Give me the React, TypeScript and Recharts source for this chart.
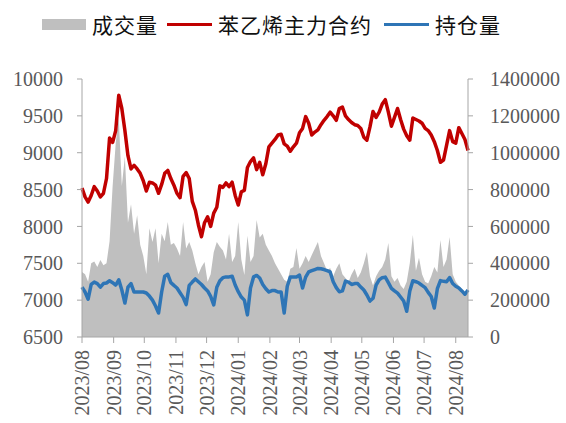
import React from 'react';
import { ComposedChart, Area, Line, XAxis, YAxis } from 'recharts';

const dates = [
  '2023-08-01','2023-08-04','2023-08-07','2023-08-10','2023-08-13','2023-08-16','2023-08-19','2023-08-22','2023-08-25','2023-08-28','2023-08-31',
  '2023-09-03','2023-09-06','2023-09-09','2023-09-12','2023-09-15','2023-09-18','2023-09-21','2023-09-24','2023-09-27','2023-09-30',
  '2023-10-03','2023-10-06','2023-10-09','2023-10-12','2023-10-15','2023-10-18','2023-10-21','2023-10-24','2023-10-27','2023-10-30',
  '2023-11-02','2023-11-05','2023-11-08','2023-11-11','2023-11-14','2023-11-17','2023-11-20','2023-11-23','2023-11-26','2023-11-29',
  '2023-12-02','2023-12-05','2023-12-08','2023-12-11','2023-12-14','2023-12-17','2023-12-20','2023-12-23','2023-12-26','2023-12-29',
  '2024-01-01','2024-01-04','2024-01-07','2024-01-10','2024-01-13','2024-01-16','2024-01-19','2024-01-22','2024-01-25','2024-01-28','2024-01-31',
  '2024-02-03','2024-02-06','2024-02-09','2024-02-12','2024-02-15','2024-02-18','2024-02-21','2024-02-24','2024-02-27',
  '2024-03-01','2024-03-04','2024-03-07','2024-03-10','2024-03-13','2024-03-16','2024-03-19','2024-03-22','2024-03-25','2024-03-28','2024-03-31',
  '2024-04-03','2024-04-06','2024-04-09','2024-04-12','2024-04-15','2024-04-18','2024-04-21','2024-04-24','2024-04-27','2024-04-30',
  '2024-05-03','2024-05-06','2024-05-09','2024-05-12','2024-05-15','2024-05-18','2024-05-21','2024-05-24','2024-05-27','2024-05-30',
  '2024-06-02','2024-06-05','2024-06-08','2024-06-11','2024-06-14','2024-06-17','2024-06-20','2024-06-23','2024-06-26','2024-06-29',
  '2024-07-02','2024-07-05','2024-07-08','2024-07-11','2024-07-14','2024-07-17','2024-07-20','2024-07-23','2024-07-26','2024-07-29',
  '2024-08-01','2024-08-04','2024-08-07','2024-08-10','2024-08-13',
];

// 苯乙烯主力合约 (left axis)
const price = [
  8520, 8400, 8330, 8420, 8540, 8480, 8400, 8450, 8650, 9200, 9140,
  9300, 9780, 9600, 9300, 8960, 8780, 8830, 8780, 8720, 8620,
  8480, 8600, 8590, 8560, 8450, 8570, 8720, 8760, 8650, 8560,
  8450, 8390, 8680, 8730, 8650, 8340, 8220, 8020, 7860, 8050,
  8130, 8000, 8180, 8260, 8550, 8530, 8590, 8540, 8600, 8420,
  8290, 8470, 8490, 8800, 8880, 8930, 8770, 8870, 8700, 8850, 9080,
  9130, 9180, 9240, 9250, 9120, 9090, 9020, 9080, 9130,
  9270, 9330, 9490, 9400, 9240, 9280, 9310, 9380, 9440, 9490, 9550,
  9500, 9440, 9600, 9620, 9500, 9450, 9410, 9380, 9370, 9330,
  9210, 9170, 9350, 9560, 9480, 9550, 9660, 9720, 9550, 9360,
  9480, 9600, 9450, 9320, 9230, 9170, 9470, 9450, 9430, 9400,
  9330, 9300, 9240, 9150, 9030, 8870, 8900, 9100, 9300, 9150,
  9130, 9340, 9260, 9180, 9030,
];

// 持仓量 (right axis)
const openInterest = [
  271000, 244000, 205000, 285000, 298000, 290000, 271000, 290000, 293000, 305000, 295000,
  282000, 310000, 255000, 184000, 270000, 290000, 244000, 244000, 244000, 244000,
  239000, 222000, 200000, 168000, 130000, 244000, 330000, 340000, 295000, 280000,
  266000, 240000, 215000, 176000, 280000, 298000, 315000, 300000, 285000, 266000,
  250000, 220000, 174000, 270000, 305000, 322000, 326000, 326000, 330000, 282000,
  246000, 217000, 200000, 120000, 266000, 326000, 334000, 320000, 285000, 262000, 244000,
  252000, 252000, 244000, 244000, 130000, 275000, 326000, 326000, 326000,
  336000, 266000, 325000, 353000, 360000, 366000, 372000, 370000, 366000, 360000, 353000,
  300000, 268000, 245000, 250000, 303000, 298000, 285000, 290000, 290000, 271000,
  255000, 228000, 195000, 210000, 282000, 310000, 322000, 325000, 295000, 264000,
  250000, 238000, 217000, 195000, 140000, 250000, 305000, 300000, 293000, 280000,
  268000, 242000, 220000, 157000, 262000, 306000, 302000, 300000, 322000, 290000,
  275000, 266000, 250000, 232000, 255000,
];

// 成交量 (right axis)
const volume = [
  353000, 340000, 300000, 400000, 410000, 380000, 418000, 390000, 400000, 520000, 820000,
  1050000, 1190000, 820000, 980000, 620000, 720000, 560000, 660000, 500000, 440000,
  340000, 590000, 515000, 590000, 400000, 560000, 520000, 624000, 500000, 510000,
  480000, 440000, 624000, 480000, 515000, 470000, 400000, 340000, 380000, 407000,
  300000, 340000, 460000, 515000, 490000, 470000, 420000, 560000, 407000, 440000,
  624000, 420000, 336000, 550000, 407000, 440000, 635000, 540000, 560000, 500000, 470000,
  440000, 400000, 370000, 340000, 310000, 300000, 370000, 380000, 483000,
  370000, 400000, 440000, 407000, 445000, 480000, 515000, 440000, 400000, 360000, 374000,
  330000, 370000, 400000, 340000, 320000, 300000, 340000, 370000, 320000, 350000,
  400000, 461000, 330000, 280000, 330000, 360000, 380000, 420000, 510000, 330000,
  300000, 320000, 280000, 260000, 300000, 400000, 553000, 360000, 430000, 340000,
  300000, 290000, 330000, 380000, 350000, 526000, 380000, 420000, 543000, 340000,
  300000, 280000, 260000, 240000, 250000,
];

const monthTicks = [
  '2023-08-01', '2023-09-01', '2023-10-01', '2023-11-01', '2023-12-01', '2024-01-01',
  '2024-02-01', '2024-03-01', '2024-04-01', '2024-05-01', '2024-06-01', '2024-07-01', '2024-08-01',
];
const leftTicks = [6500, 7000, 7500, 8000, 8500, 9000, 9500, 10000];
const rightTicks = [0, 200000, 400000, 600000, 800000, 1000000, 1200000, 1400000];

const data = dates.map((d, i) => ({
  t: Date.parse(d + 'T00:00:00Z'),
  price: price[i],
  oi: openInterest[i],
  volume: volume[i],
}));
const monthTickValues = monthTicks.map((d) => Date.parse(d + 'T00:00:00Z'));

const fmtMonth = (v: number) => {
  const d = new Date(v);
  const m = d.getUTCMonth() + 1;
  return `${d.getUTCFullYear()}/${m < 10 ? '0' + m : m}`;
};

const TICK_COLOR = '#595959';
const AXIS_COLOR = '#A6A6A6';
const SERIF = '"Liberation Serif", "Times New Roman", serif';

const XTick = (props: any) => {
  const { x, y, payload } = props;
  return (
    <g transform={`translate(${x},${y})`}>
      <text
        transform="rotate(-90)"
        textAnchor="end"
        dy="0.35em"
        fill={TICK_COLOR}
        fontSize={20}
        fontFamily={SERIF}
      >
        {fmtMonth(payload.value)}
      </text>
    </g>
  );
};

const legendText: React.CSSProperties = {
  position: 'absolute',
  top: 10,
  fontSize: 21,
  letterSpacing: 1,
  lineHeight: '28px',
  color: '#111',
  fontFamily: '"Noto Sans CJK SC", sans-serif',
  whiteSpace: 'nowrap',
};

export default function App() {
  return (
    <div style={{ position: 'absolute', left: 0, top: 0, width: 566, height: 423, background: '#fff' }}>
      <div style={{ position: 'absolute', left: 42, top: 19, width: 44, height: 11, background: '#BFBFBF' }} />
      <div style={{ ...legendText, left: 92 }}>成交量</div>
      <div style={{ position: 'absolute', left: 167, top: 23, width: 45, height: 3, background: '#C00000' }} />
      <div style={{ ...legendText, left: 218 }}>苯乙烯主力合约</div>
      <div style={{ position: 'absolute', left: 384, top: 23, width: 45, height: 3, background: '#2E75B6' }} />
      <div style={{ ...legendText, left: 435 }}>持仓量</div>
      <ComposedChart
        width={566}
        height={423}
        data={data}
        margin={{ top: 79, right: 0, bottom: 0, left: 0 }}
        style={{ position: 'absolute', left: 0, top: 0 }}
      >
        <XAxis
          dataKey="t"
          type="number"
          domain={['dataMin', 'dataMax']}
          ticks={monthTickValues}
          tick={<XTick />}
          height={86}
          tickSize={6}
          tickMargin={7}
          interval={0}
          stroke={AXIS_COLOR}
          axisLine={{ stroke: AXIS_COLOR }}
          tickLine={{ stroke: AXIS_COLOR }}
        />
        <YAxis
          yAxisId="left"
          orientation="left"
          domain={[6500, 10000]}
          ticks={leftTicks}
          width={82}
          tickSize={5}
          tickMargin={14}
          interval={0}
          allowDataOverflow
          axisLine={{ stroke: AXIS_COLOR }}
          tickLine={{ stroke: AXIS_COLOR }}
          tick={{ fill: TICK_COLOR, fontSize: 20, fontFamily: SERIF }}
        />
        <YAxis
          yAxisId="right"
          orientation="right"
          domain={[0, 1400000]}
          ticks={rightTicks}
          width={98}
          tickSize={5}
          tickMargin={17}
          interval={0}
          allowDataOverflow
          axisLine={{ stroke: AXIS_COLOR }}
          tickLine={{ stroke: AXIS_COLOR }}
          tick={{ fill: TICK_COLOR, fontSize: 20, fontFamily: SERIF }}
        />
        <Area
          yAxisId="right"
          dataKey="volume"
          type="linear"
          fill="#BFBFBF"
          fillOpacity={1}
          stroke="none"
          isAnimationActive={false}
        />
        <Line
          yAxisId="left"
          dataKey="price"
          type="linear"
          stroke="#C00000"
          strokeWidth={3.5}
          strokeLinejoin="round"
          dot={false}
          isAnimationActive={false}
        />
        <Line
          yAxisId="right"
          dataKey="oi"
          type="linear"
          stroke="#2E75B6"
          strokeWidth={3.5}
          strokeLinejoin="round"
          dot={false}
          isAnimationActive={false}
        />
      </ComposedChart>
    </div>
  );
}
